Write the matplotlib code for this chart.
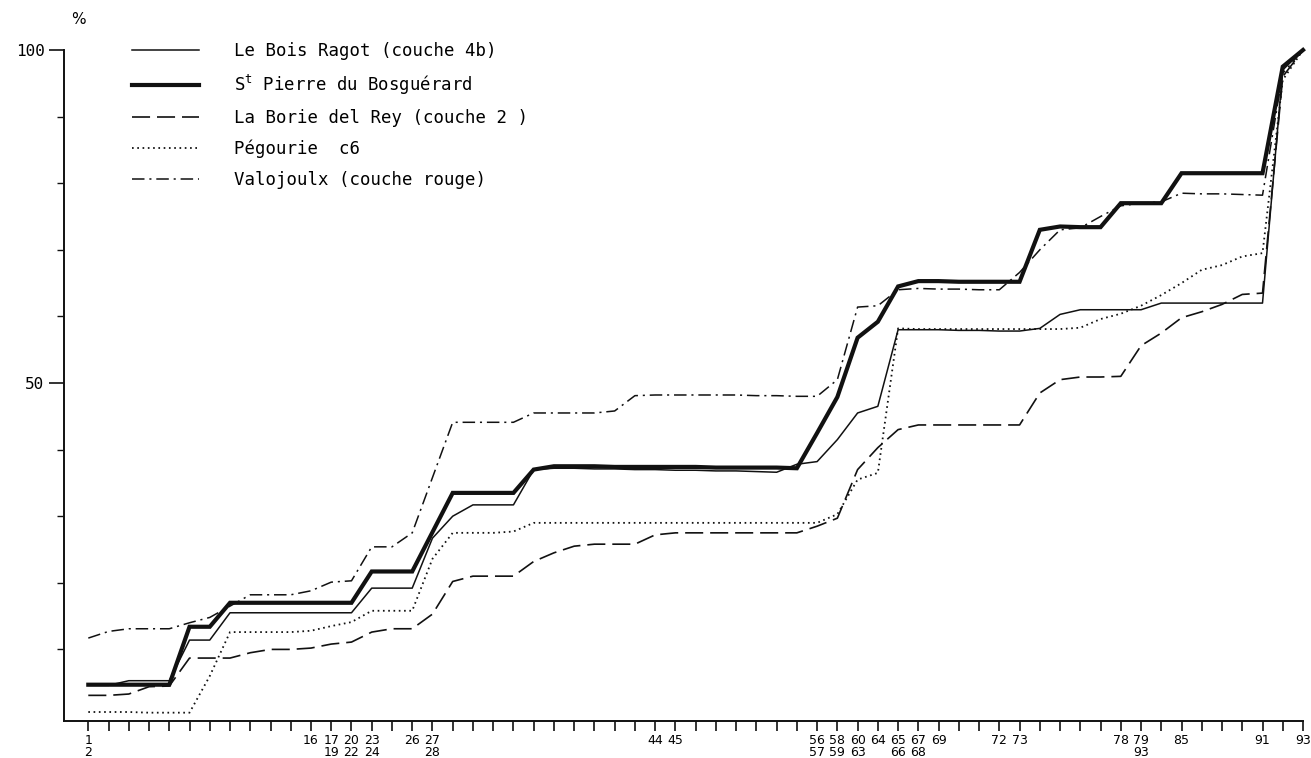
import matplotlib
matplotlib.use('Agg')
import matplotlib.pyplot as plt
import numpy as np

# positions des groupes de types sur l'axe (index 0..60)
positions = np.arange(61)

# étiquettes de l'axe horizontal (ligne haute / ligne basse)
label_idx = [0, 11, 12, 13, 14, 16, 17, 28, 29, 36, 37, 38, 39, 40, 41, 42,
             45, 46, 51, 52, 54, 58, 60]
label_top = ['1', '16', '17', '20', '23', '26', '27', '44', '45', '56', '58', '60',
             '64', '65', '67', '69', '72', '73', '78', '79', '85', '91', '93']
label_bottom = ['2', '', '19', '22', '24', '', '28', '', '', '57', '59', '63',
                '', '66', '68', '', '', '', '', '93', '', '', '']

# pourcentages cumulés
bois_ragot = [4.6, 4.6, 5.3, 5.3, 5.3, 11.4, 11.4, 15.5, 15.5, 15.5, 15.5, 15.5, 15.5, 15.5,
              19.2, 19.2, 19.2, 26.7, 30.0, 31.7, 31.7, 31.7, 37.0, 37.2, 37.2, 37.1, 37.1,
              37.0, 37.0, 36.9, 36.9, 36.8, 36.8, 36.7, 36.6, 37.8, 38.2, 41.5, 45.5, 46.5,
              58.0, 58.0, 58.0, 57.9, 57.9, 57.8, 57.8, 58.2, 60.3, 61.0, 61.0, 61.0, 61.0,
              62.0, 62.0, 62.0, 62.0, 62.0, 62.0, 97.0, 100]
bosguerard = [4.7, 4.7, 4.7, 4.7, 4.7, 13.4, 13.4, 17.0, 17.0, 17.0, 17.0, 17.0, 17.0, 17.0,
              21.7, 21.7, 21.7, 27.6, 33.5, 33.5, 33.5, 33.5, 37.0, 37.5, 37.5, 37.5, 37.4,
              37.4, 37.4, 37.4, 37.4, 37.3, 37.3, 37.3, 37.3, 37.2, 42.5, 47.9, 56.8, 59.2,
              64.5, 65.3, 65.3, 65.2, 65.2, 65.2, 65.2, 73.0, 73.5, 73.4, 73.4, 77.0, 77.0,
              77.0, 81.5, 81.5, 81.5, 81.5, 81.5, 97.5, 100]
borie_del_rey = [3.1, 3.1, 3.3, 4.4, 4.5, 8.7, 8.7, 8.7, 9.5, 10.0, 10.0, 10.2, 10.8, 11.1,
                 12.6, 13.1, 13.1, 15.3, 20.2, 21.0, 21.0, 21.0, 23.2, 24.5, 25.5, 25.8, 25.8,
                 25.8, 27.2, 27.5, 27.5, 27.5, 27.5, 27.5, 27.5, 27.5, 28.5, 29.7, 37.0, 40.3,
                 43.0, 43.7, 43.7, 43.7, 43.7, 43.7, 43.7, 48.5, 50.5, 50.9, 50.9, 51.0, 55.6,
                 57.5, 59.8, 60.7, 61.8, 63.3, 63.5, 96.0, 100]
pegourie = [0.6, 0.6, 0.6, 0.5, 0.5, 0.5, 6.0, 12.6, 12.6, 12.6, 12.6, 12.8, 13.5, 14.1,
            15.8, 15.8, 15.8, 23.6, 27.5, 27.5, 27.5, 27.7, 29.0, 29.0, 29.0, 29.0, 29.0,
            29.0, 29.0, 29.0, 29.0, 29.0, 29.0, 29.0, 29.0, 29.0, 29.0, 30.3, 35.5, 36.5,
            58.2, 58.1, 58.1, 58.1, 58.1, 58.1, 58.1, 58.1, 58.1, 58.3, 59.6, 60.4, 61.6,
            63.2, 65.0, 67.0, 67.7, 69.0, 69.5, 95.5, 100]
valojoulx = [11.7, 12.7, 13.1, 13.1, 13.1, 14.0, 14.8, 16.5, 18.2, 18.2, 18.2, 18.8, 20.1, 20.3,
             25.4, 25.4, 27.5, 35.8, 44.1, 44.1, 44.1, 44.1, 45.5, 45.5, 45.5, 45.5, 45.8,
             48.1, 48.2, 48.2, 48.2, 48.2, 48.2, 48.1, 48.1, 48.0, 48.0, 50.5, 61.4, 61.6,
             64.0, 64.2, 64.1, 64.1, 64.0, 64.0, 66.6, 70.0, 73.0, 73.3, 75.0, 76.6, 77.0,
             77.2, 78.5, 78.4, 78.4, 78.3, 78.2, 96.5, 100]

plt.rcParams['lines.scale_dashes'] = False

fig = plt.figure(figsize=(13.11, 7.58), dpi=100)
ax = fig.add_axes([64 / 1311, 37 / 758, 1239 / 1311, 671 / 758])

ink = '#111111'
l1, = ax.plot(positions, bois_ragot, color=ink, lw=1.1, clip_on=False,
              label='Le Bois Ragot (couche 4b)')
l2, = ax.plot(positions, bosguerard, color=ink, lw=3.0, clip_on=False,
              solid_joinstyle='miter', label=r'S$^{\mathregular{t}}$ Pierre du Bosguérard')
l3, = ax.plot(positions, borie_del_rey, color=ink, lw=1.2, dashes=(13, 5), clip_on=False,
              label='La Borie del Rey (couche 2 )')
l4, = ax.plot(positions, pegourie, color=ink, lw=1.3, dashes=(1.2, 2.6), clip_on=False,
              label='Pégourie  c6')
l5, = ax.plot(positions, valojoulx, color=ink, lw=1.1, dashes=(9, 3.5, 1.5, 3.5),
              clip_on=False, label='Valojoulx (couche rouge)')

ax.set_xlim(-1.2, 60)
ax.set_ylim(-0.75, 100)

for s in ['top', 'right']:
    ax.spines[s].set_visible(False)
for s in ['left', 'bottom']:
    ax.spines[s].set_linewidth(1.4)
    ax.spines[s].set_color(ink)

# axe horizontal : graduations à chaque groupe, étiquettes en ticks mineurs
ax.xaxis.remove_overlapping_locs = False
ax.set_xticks(positions)
ax.set_xticklabels([''] * len(positions))
ax.set_xticks(label_idx, minor=True)
ax.set_xticklabels([t + '\n' + b for t, b in zip(label_top, label_bottom)], minor=True,
                   fontsize=9, linespacing=0.95)
ax.tick_params(axis='x', which='major', direction='out', length=7, width=1.2, color=ink)
ax.tick_params(axis='x', which='minor', length=0, pad=9)

# axe vertical
ax.set_yticks([50, 100])
ax.set_yticklabels(['50', '100'], fontsize=11.5, family='DejaVu Sans Mono')
ax.set_yticks(np.arange(10, 100, 10), minor=True)
ax.tick_params(axis='y', which='major', direction='out', length=11, width=1.2, pad=3, color=ink)
ax.tick_params(axis='y', which='minor', direction='out', length=5, width=1.0, color=ink)
ax.text(0.006, 1.035, '%', transform=ax.transAxes, fontsize=11, ha='left', va='bottom')

leg = ax.legend(handles=[l1, l2, l3, l4, l5], loc='upper left', bbox_to_anchor=(0.042, 1.035),
                frameon=False, handlelength=3.9, handletextpad=2.0, labelspacing=0.72,
                prop={'family': 'DejaVu Sans Mono', 'size': 12.5})

fig.savefig('out.png', dpi=100, facecolor='white')
